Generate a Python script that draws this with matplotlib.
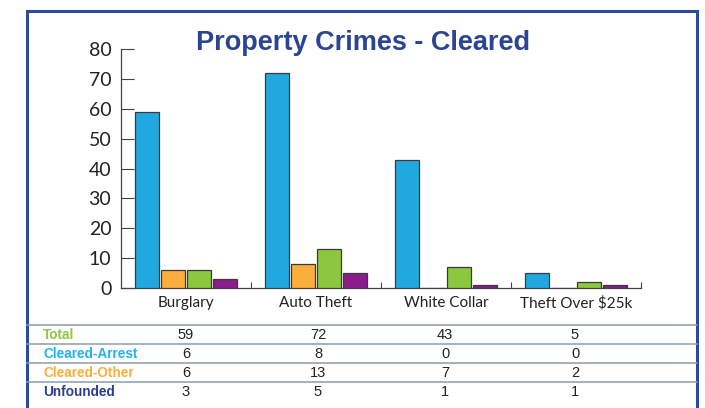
import matplotlib
matplotlib.use('Agg')
import matplotlib.pyplot as plt
import numpy as np
from matplotlib.patches import Rectangle
from matplotlib.lines import Line2D

# data
categories = ['Burglary', 'Auto Theft', 'White Collar', 'Theft Over $25k']
total = [59, 72, 43, 5]
cleared_arrest = [6, 8, 0, 0]
cleared_other = [6, 13, 7, 2]
unfounded = [3, 5, 1, 1]

row_names = ['Total', 'Cleared-Arrest', 'Cleared-Other', 'Unfounded']
row_colors = ['#8DC63F', '#1FB4EE', '#FBAE3C', '#2B3F94']
bar_colors = ['#22A8E0', '#FBAE3C', '#8DC63F', '#8B1C8C']

narrow = ['Liberation Sans', 'DejaVu Sans']
body = ['Lato', 'DejaVu Sans']

fig = plt.figure(figsize=(7.05, 4.08), dpi=100)
ax = fig.add_axes([121/705, 1-288/408, 520/705, 239/408])

x = np.arange(len(categories))
series = [total, cleared_arrest, cleared_other, unfounded]
offsets = [-0.3, -0.1, 0.1, 0.3]
for vals, off, c in zip(series, offsets, bar_colors):
    ax.bar(x + off, vals, width=0.18, color=c, edgecolor='#3a3a3a', linewidth=0.9, zorder=3)

ax.set_xlim(-0.5, 3.5)
ax.set_ylim(0, 80)
ax.set_yticks(range(0, 81, 10))
ax.tick_params(axis='y', direction='in', length=9, width=0.8, color='#444444',
               labelsize=14, pad=7, labelcolor='#222222')
for lab in ax.get_yticklabels():
    lab.set_family(body)

ax.set_xticks([0.5, 1.5, 2.5, 3.5])
ax.set_xticklabels([])
ax.set_xticks(x, minor=True)
ax.set_xticklabels(categories, minor=True, fontsize=11, family=body, color='#222222')
ax.tick_params(axis='x', which='major', direction='in', length=4, width=0.8, color='#444444')
ax.tick_params(axis='x', which='minor', length=0, pad=6)

for s in ['top', 'right']:
    ax.spines[s].set_visible(False)
for s in ['left', 'bottom']:
    ax.spines[s].set_color('#444444')
    ax.spines[s].set_linewidth(0.9)

fig.text(363/705, 1-43/408, 'Property Crimes - Cleared', ha='center', va='center',
         fontsize=19.5, fontweight='bold', color='#2B4593', family=narrow)

# frame
fig.patches.append(Rectangle((27/705, -0.05), 670/705, 1.05-11/408, transform=fig.transFigure,
                             fill=False, edgecolor='#2B4A9A', linewidth=2.2))

# table
line_ys = [325, 344, 363, 382]
for ly in line_ys:
    fig.add_artist(Line2D([27/705, 697/705], [1-ly/408, 1-ly/408], color='#8C9DAA', linewidth=1.1))

col_x = [186, 318, 445, 575]
for i, (name, rc, vals) in enumerate(zip(row_names, row_colors, series)):
    ty = 1 - (line_ys[i] + 10) / 408
    fig.text(43/705, ty, name, ha='left', va='center', fontsize=9.8, fontweight='bold',
             color=rc, family=narrow)
    for cx, v in zip(col_x, vals):
        fig.text(cx/705, ty, str(v), ha='center', va='center', fontsize=10.5,
                 color='#222222', family=narrow)

plt.savefig('out.png', dpi=100)
